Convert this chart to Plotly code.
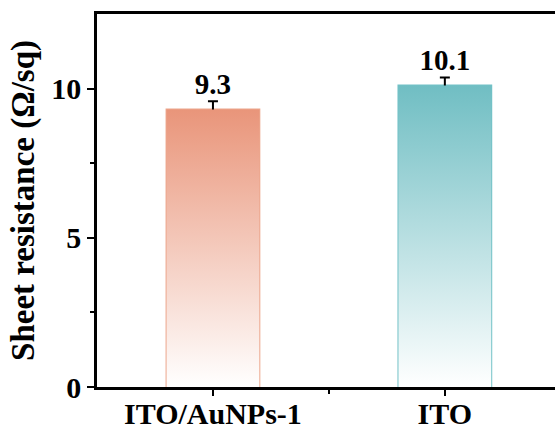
import plotly.graph_objects as go

categories = ["ITO/AuNPs-1", "ITO"]
values = [9.3, 10.1]
errors = [0.28, 0.27]
labels = ["9.3", "10.1"]
top_colors = ["#E9957A", "#70BEC3"]
edge_colors = ["#ECA68C", "#72C2C7"]

BAR_W = 0.4
FONT = "Liberation Serif"

fig = go.Figure()

# gradient fills (drawn from data values)
for i, (v, c) in enumerate(zip(values, top_colors)):
    x0, x1 = i - BAR_W / 2, i + BAR_W / 2
    fig.add_trace(go.Scatter(
        x=[x0, x1, x1, x0, x0], y=[0, 0, v, v, 0],
        mode="lines", line=dict(width=0), fill="toself",
        fillgradient=dict(type="vertical", colorscale=[[0, "#FFFFFF"], [1, c]]),
        hoverinfo="skip", showlegend=False,
    ))

# bar outlines + error bars
fig.add_trace(go.Bar(
    x=[0, 1], y=values, width=BAR_W,
    marker=dict(color="rgba(0,0,0,0)", line=dict(color=edge_colors, width=2)),
    error_y=dict(type="data", array=errors, color="black", thickness=2, width=5),
    showlegend=False,
))

# value labels
fig.add_trace(go.Scatter(
    x=[0, 1], y=[v + e for v, e in zip(values, errors)],
    mode="text", text=labels, textposition="top center",
    textfont=dict(family=FONT, size=29, color="black", weight="bold"),
    showlegend=False, hoverinfo="skip",
))

fig.update_layout(
    width=555, height=429,
    margin=dict(l=97, r=0, t=14, b=42),
    plot_bgcolor="white", paper_bgcolor="white",
    font=dict(family=FONT, color="black"),
)
fig.update_xaxes(
    range=[-0.5, 1.475], tickvals=[0, 1], ticktext=categories,
    showline=True, linecolor="black", linewidth=2.5, mirror=True,
    ticks="outside", ticklen=6, tickwidth=2, tickcolor="black",
    minor=dict(tickvals=[0.5], ticks="outside", ticklen=4, tickwidth=2, tickcolor="black"),
    tickfont=dict(family=FONT, size=30, color="black", weight="bold"),
    ticklabelstandoff=-8,
    showgrid=False, zeroline=False, fixedrange=True, automargin=False,
)
fig.update_yaxes(
    range=[0, 12.5], tickvals=[0, 5, 10],
    showline=True, linecolor="black", linewidth=2.5,
    ticks="outside", ticklen=7, tickwidth=2, tickcolor="black",
    minor=dict(tickvals=[2.5, 7.5], ticks="outside", ticklen=4, tickwidth=2, tickcolor="black"),
    tickfont=dict(family=FONT, size=30, color="black", weight="bold"),
    title=dict(text="Sheet resistance (Ω/sq)", font=dict(family=FONT, size=33, color="black", weight="bold"), standoff=7),
    showgrid=False, zeroline=False, fixedrange=True, automargin=False,
)

fig.write_html("out.html", config=dict(displayModeBar=False))
